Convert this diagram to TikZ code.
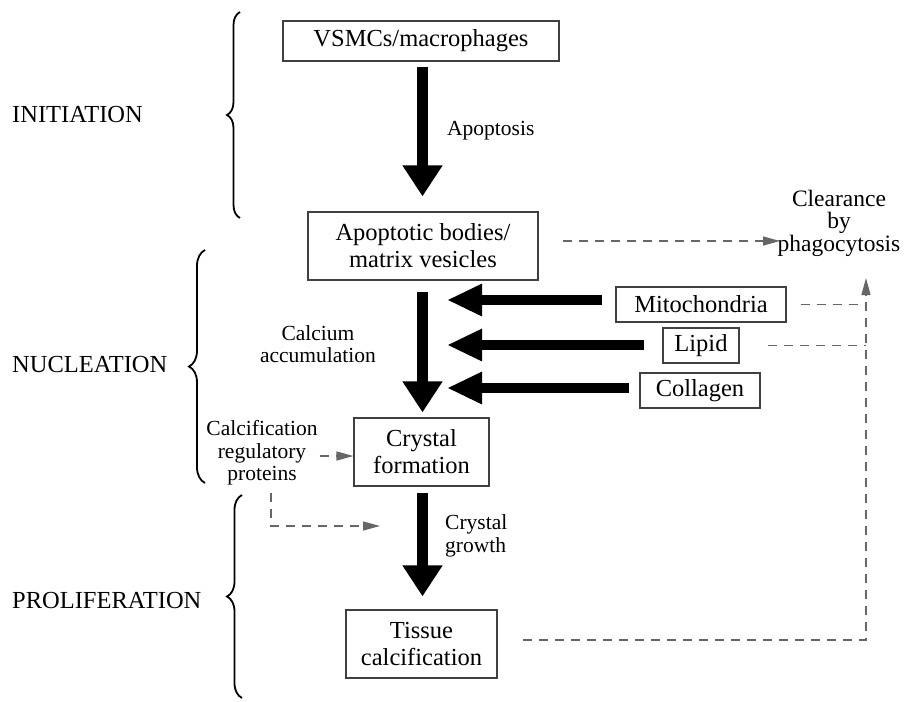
\documentclass[tikz,border=0pt]{standalone}
\usepackage{fontspec}
\setmainfont{Liberation Serif}
\usetikzlibrary{arrows.meta,decorations.pathreplacing}
\begin{document}
\begin{tikzpicture}[x=1pt,y=-1pt,
  box/.style={draw=black!75, line width=1.2pt, align=center, inner sep=0pt, font=\fontsize{24.5}{27}\selectfont},
  lbl/.style={align=center, inner sep=0pt, font=\fontsize{21.5}{22.5}\selectfont},
  phase/.style={anchor=west, inner sep=0pt, font=\fontsize{24.5}{27}\selectfont},
  bigv/.style={line width=11pt, -{Triangle[length=31pt,width=38pt]}},
  bigh/.style={line width=9.5pt, -{Triangle[length=35pt,width=30pt]}},
  dline/.style={draw=black!60, line width=1.4pt, dash pattern=on 9pt off 7pt},
  dtip/.style={-{Triangle[length=17pt,width=9pt]}},
  stage/.style={decorate, decoration={brace, amplitude=#1}, line width=1.8pt}
]
\useasboundingbox (0,0) rectangle (911,702);

% boxes
\node[box, minimum width=276pt, minimum height=40pt] (vsmc) at (421,41) {VSMCs/macrophages};
\node[box, minimum width=230pt, minimum height=68pt] (apo) at (423,246) {Apoptotic bodies/\\matrix vesicles};
\node[box, minimum width=135pt, minimum height=68pt] (cry) at (421.5,452) {Crystal\\formation};
\node[box, minimum width=151pt, minimum height=68pt] (tis) at (421.5,644) {Tissue\\calcification};
\node[box, minimum width=170pt, minimum height=35pt] (mit) at (701,304.5) {Mitochondria};
\node[box, minimum width=76pt, minimum height=35pt] (lip) at (701,345.5) {Lipid};
\node[box, minimum width=120pt, minimum height=35pt] (col) at (700,390.5) {Collagen};

% labels
\node[lbl, anchor=west] (apop) at (447,131) {Apoptosis};
\node[lbl] (calc) at (318,344) {Calcium\\accumulation};
\node[lbl] (prot) at (262,453) {Calcification\\regulatory\\proteins};
\node[lbl, anchor=west, align=left] (grow) at (445,536) {Crystal\\growth};
\node[lbl, font=\fontsize{23.5}{22.5}\selectfont] (clr) at (839,223) {Clearance\\by\\phagocytosis};

% phases
\node[phase] (ini) at (12,115) {INITIATION};
\node[phase] (nuc) at (12,365) {NUCLEATION};
\node[phase] (pro) at (12,600) {PROLIFERATION};

% braces
\draw[stage=13pt] (240,218) -- (240,12);
\draw[stage=16pt] (205,483) -- (205,250);
\draw[stage=15pt] (242,698) -- (242,495);

% main vertical arrows
\coordinate (ax) at (422.5,0);
\draw[bigv, shorten <=5pt, shorten >=15pt] (vsmc.south -| ax) -- (apo.north -| ax);
\draw[bigv, shorten <=11pt, shorten >=5pt] (apo.south -| ax) -- (cry.north -| ax);
\draw[bigv, shorten <=6pt, shorten >=13pt] (cry.south -| ax) -- (tis.north -| ax);

% horizontal arrows
\coordinate (h1) at (447,300);
\coordinate (h2) at (447,345);
\coordinate (h3) at (447,388);
\draw[bigh, shorten <=13pt] (h1 -| mit.west) -- (h1);
\draw[bigh, shorten <=18pt] (h2 -| lip.west) -- (h2);
\draw[bigh, shorten <=10pt] (h3 -| col.west) -- (h3);

% dashed connectors
\coordinate (cl) at (780,241);
\draw[dline, dtip, shorten <=24pt] (apo.east |- cl) -- (cl);
\coordinate (vb) at (866,640);
\coordinate (vt) at (866,278);
\draw[dline, dtip, shorten <=25pt] (tis.east |- vb) -- (vb) -- (vt);
\draw[dline, shorten <=14pt] (mit.east) -- (mit.east -| vb);
\draw[dline, shorten <=28pt] (lip.east) -- (lip.east -| vb);
\coordinate (pk) at (271,526);
\coordinate (pc) at (380,526);
\draw[dline, dtip, shorten <=7pt] (prot.south -| pk) -- (pk) -- (pc);
\coordinate (pa) at (0,456);
\draw[dline, dtip, shorten <=2pt] (prot.east |- pa) -- (cry.west |- pa);
\end{tikzpicture}
\end{document}
